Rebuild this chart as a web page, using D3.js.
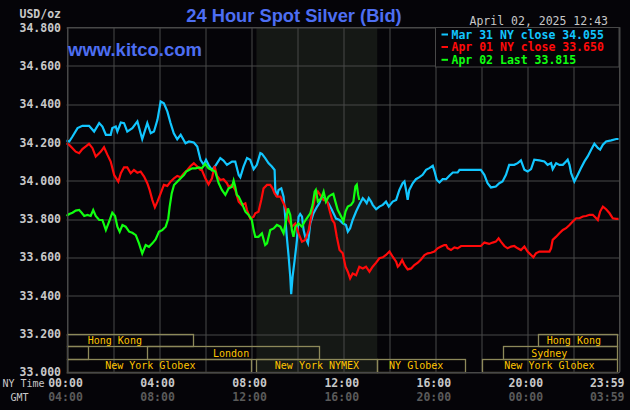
<!DOCTYPE html>
<html><head><meta charset="utf-8">
<script src="https://cdn.jsdelivr.net/npm/d3@7"></script>
<style>
html,body{margin:0;padding:0;background:#050408;}
svg{display:block;}
</style></head>
<body>
<script>
// ---------- DATA ----------
const yTicks = [33.0, 33.2, 33.4, 33.6, 33.8, 34.0, 34.2, 34.4, 34.6, 34.8];
const xGridHours = [0,2,4,6,8,10,12,14,16,18,20,22,24];
const nyTimeLabels = ["00:00","04:00","08:00","12:00","16:00","20:00","23:59"];
const gmtLabels    = ["04:00","08:00","12:00","16:00","20:00","00:00","03:59"];
const labelHours   = [0,4,8,12,16,20,23.983];

const legendLabels = ["Mar 31 NY close 34.055","Apr 01 NY close 33.650","Apr 02 Last 33.815"];

// [hour, price]
const mar31 = [
[0.00,34.208],[0.12,34.203],[0.26,34.229],[0.48,34.273],[0.69,34.285],[0.98,34.285],[1.20,34.255],[1.42,34.299],[1.56,34.281],[1.71,34.238],[1.92,34.238],[1.99,34.273],[2.14,34.281],[2.21,34.255],[2.36,34.302],[2.50,34.299],[2.64,34.255],[2.86,34.273],[3.08,34.308],[3.29,34.215],[3.51,34.299],[3.66,34.246],[3.80,34.255],[3.95,34.316],[4.09,34.412],[4.23,34.403],[4.38,34.360],[4.52,34.299],[4.66,34.246],[4.81,34.215],[4.96,34.238],[5.17,34.194],[5.32,34.203],[5.53,34.198],[5.68,34.177],[5.82,34.107],[5.96,34.081],[6.06,34.107],[6.17,34.081],[6.32,34.054],[6.46,34.075],[6.68,34.116],[6.82,34.103],[6.97,34.081],[7.19,34.098],[7.33,34.098],[7.48,34.028],[7.55,34.016],[7.69,34.072],[7.84,34.116],[7.98,34.107],[8.13,34.058],[8.27,34.081],[8.42,34.142],[8.49,34.138],[8.63,34.116],[8.78,34.089],[8.92,34.072],[9.04,34.054],[9.07,33.950],[9.14,33.915],[9.21,33.950],[9.33,33.958],[9.43,33.915],[9.50,33.810],[9.57,33.705],[9.65,33.601],[9.72,33.496],[9.76,33.405],[9.82,33.496],[9.91,33.583],[10.01,33.688],[10.08,33.810],[10.15,33.824],[10.23,33.810],[10.30,33.740],[10.37,33.705],[10.49,33.671],[10.59,33.775],[10.73,33.828],[10.88,33.862],[10.98,33.880],[11.09,33.915],[11.24,33.897],[11.38,33.880],[11.53,33.845],[11.71,33.800],[11.86,33.793],[12.00,33.776],[12.14,33.767],[12.22,33.732],[12.32,33.750],[12.43,33.793],[12.58,33.837],[12.72,33.872],[12.87,33.907],[12.94,33.898],[13.04,33.881],[13.13,33.907],[13.23,33.889],[13.30,33.872],[13.45,33.849],[13.59,33.863],[13.74,33.872],[13.88,33.889],[14.00,33.863],[14.17,33.889],[14.32,33.898],[14.46,33.950],[14.60,33.985],[14.68,33.994],[14.75,33.950],[14.82,33.898],[14.89,33.950],[15.04,33.985],[15.18,34.006],[15.33,34.017],[15.47,34.029],[15.62,34.055],[15.76,34.064],[15.91,34.076],[15.99,34.046],[16.08,34.003],[16.20,33.989],[16.34,34.006],[16.49,34.006],[16.63,34.024],[16.78,34.041],[16.99,34.041],[17.07,34.055],[17.49,34.055],[18.00,34.055],[18.15,34.029],[18.29,33.985],[18.44,33.963],[18.65,33.968],[18.80,33.985],[18.94,33.994],[19.09,34.029],[19.23,34.081],[19.45,34.081],[19.60,34.090],[19.74,34.104],[19.89,34.055],[20.03,34.046],[20.18,34.059],[20.32,34.108],[20.54,34.104],[20.76,34.099],[20.90,34.081],[21.05,34.090],[21.12,34.059],[21.27,34.090],[21.41,34.081],[21.56,34.081],[21.70,34.099],[21.77,34.108],[21.85,34.081],[21.92,34.038],[22.06,33.994],[22.21,34.029],[22.35,34.064],[22.50,34.099],[22.64,34.125],[22.79,34.160],[22.93,34.191],[23.08,34.169],[23.18,34.160],[23.30,34.186],[23.44,34.203],[23.66,34.209],[23.88,34.216],[23.98,34.216]
];
const apr01 = [
[0.00,34.194],[0.12,34.185],[0.26,34.168],[0.40,34.150],[0.55,34.142],[0.69,34.163],[0.84,34.177],[0.98,34.191],[1.13,34.168],[1.27,34.124],[1.42,34.142],[1.49,34.150],[1.63,34.173],[1.78,34.133],[1.92,34.098],[2.07,34.028],[2.25,33.993],[2.36,34.037],[2.50,34.068],[2.64,34.068],[2.79,34.037],[2.93,34.054],[3.08,34.040],[3.22,34.046],[3.37,34.020],[3.51,33.985],[3.61,33.950],[3.73,33.897],[3.84,33.859],[3.95,33.889],[4.09,33.932],[4.23,33.976],[4.38,33.971],[4.52,33.993],[4.67,34.011],[4.81,34.023],[4.96,34.016],[5.10,34.037],[5.25,34.054],[5.39,34.075],[5.53,34.089],[5.68,34.072],[5.82,34.054],[5.88,34.054],[6.03,34.011],[6.17,33.979],[6.32,34.011],[6.43,34.075],[6.54,34.023],[6.68,34.002],[6.82,34.006],[6.97,33.985],[7.04,33.967],[7.19,33.976],[7.33,33.950],[7.48,33.889],[7.62,33.871],[7.77,33.880],[7.84,33.845],[7.98,33.801],[8.13,33.810],[8.20,33.828],[8.34,33.836],[8.46,33.897],[8.56,33.958],[8.71,33.976],[8.85,33.976],[8.95,33.958],[9.04,33.932],[9.14,33.915],[9.29,33.915],[9.39,33.889],[9.50,33.862],[9.65,33.793],[9.79,33.758],[9.94,33.775],[10.08,33.723],[10.23,33.679],[10.37,33.688],[10.52,33.740],[10.66,33.828],[10.80,33.915],[10.92,33.941],[11.02,33.924],[11.17,33.897],[11.31,33.897],[11.46,33.828],[11.54,33.793],[11.64,33.776],[11.74,33.706],[11.86,33.636],[12.00,33.619],[12.12,33.549],[12.22,33.523],[12.32,33.488],[12.43,33.514],[12.58,33.505],[12.72,33.549],[12.87,33.540],[13.01,33.549],[13.16,33.523],[13.30,33.549],[13.45,33.570],[13.59,33.593],[13.74,33.598],[13.88,33.610],[14.03,33.628],[14.17,33.601],[14.32,33.575],[14.39,33.549],[14.46,33.558],[14.58,33.584],[14.68,33.558],[14.82,33.535],[14.97,33.540],[15.11,33.558],[15.26,33.570],[15.40,33.587],[15.55,33.610],[15.69,33.619],[15.83,33.622],[15.98,33.628],[16.12,33.645],[16.27,33.654],[16.41,33.662],[16.49,33.662],[16.56,33.645],[16.70,33.636],[16.85,33.650],[16.99,33.645],[17.14,33.657],[17.49,33.657],[18.00,33.657],[18.15,33.675],[18.36,33.668],[18.51,33.675],[18.65,33.680],[18.77,33.697],[18.87,33.680],[19.02,33.657],[19.16,33.645],[19.31,33.654],[19.45,33.657],[19.60,33.645],[19.74,33.636],[19.89,33.654],[20.03,33.628],[20.18,33.610],[20.28,33.598],[20.39,33.619],[20.54,33.628],[20.69,33.628],[20.98,33.628],[21.05,33.645],[21.12,33.689],[21.27,33.706],[21.41,33.724],[21.56,33.741],[21.70,33.750],[21.85,33.767],[21.99,33.785],[22.14,33.802],[22.28,33.802],[22.43,33.811],[22.57,33.814],[22.72,33.820],[22.86,33.820],[23.01,33.802],[23.08,33.793],[23.18,33.837],[23.30,33.863],[23.44,33.849],[23.59,33.828],[23.73,33.802],[23.88,33.799],[23.98,33.799]
];
const apr02 = [
[0.00,33.814],[0.12,33.824],[0.26,33.831],[0.40,33.842],[0.55,33.845],[0.66,33.831],[0.77,33.814],[0.91,33.819],[1.05,33.814],[1.16,33.845],[1.27,33.814],[1.42,33.793],[1.56,33.793],[1.71,33.740],[1.85,33.784],[1.99,33.831],[2.11,33.814],[2.21,33.758],[2.31,33.732],[2.43,33.767],[2.57,33.758],[2.72,33.732],[2.86,33.726],[3.01,33.714],[3.15,33.671],[3.29,33.618],[3.44,33.662],[3.58,33.653],[3.73,33.671],[3.87,33.691],[4.02,33.732],[4.16,33.740],[4.31,33.758],[4.42,33.801],[4.48,33.862],[4.57,33.932],[4.67,33.976],[4.81,33.993],[4.96,34.011],[5.10,34.028],[5.20,34.046],[5.32,34.054],[5.46,34.063],[5.61,34.063],[5.75,34.068],[5.88,34.063],[6.03,34.086],[6.17,34.063],[6.32,34.054],[6.46,34.046],[6.61,33.985],[6.75,33.950],[6.90,33.924],[7.04,33.958],[7.19,33.967],[7.26,33.999],[7.33,33.967],[7.40,33.924],[7.48,33.915],[7.62,33.880],[7.77,33.836],[7.91,33.819],[8.05,33.793],[8.13,33.740],[8.20,33.705],[8.34,33.705],[8.49,33.723],[8.63,33.662],[8.71,33.671],[8.85,33.740],[9.00,33.749],[9.14,33.767],[9.29,33.758],[9.43,33.723],[9.53,33.784],[9.62,33.854],[9.72,33.819],[9.79,33.740],[9.86,33.705],[9.94,33.758],[10.08,33.775],[10.23,33.758],[10.34,33.784],[10.49,33.810],[10.59,33.828],[10.69,33.871],[10.78,33.941],[10.83,33.950],[10.92,33.889],[11.07,33.906],[11.17,33.941],[11.27,33.889],[11.38,33.915],[11.49,33.924],[11.59,33.930],[11.68,33.889],[11.78,33.846],[11.93,33.811],[12.03,33.785],[12.12,33.837],[12.22,33.863],[12.36,33.872],[12.46,33.889],[12.55,33.968],[12.61,33.977],[12.67,33.924],[12.72,33.898]
];

// sessions: [row, name, startHour, endHour, labelHour]
const sessions = [
[0,"Hong Kong",0,5.5,2.1],
[0,"Hong Kong",20.5,24,22.04],
[1,"",0,0.95,null],
[1,"London",3.5,10.95,7.15],
[1,"Sydney",18.97,24,20.97],
[2,"New York Globex",0,8.0,3.64],
[2,"New York NYMEX",8.25,13.5,10.88],
[2,"NY Globex",13.5,17.33,15.19],
[2,"New York Globex",18.03,24,20.98]
];
const nymexShade = [8.25, 13.5];

// ---------- CHART ----------
const W = 630, H = 410;
const svg = d3.select("body").append("svg").attr("width", W).attr("height", H);
svg.append("rect").attr("width", W).attr("height", H).attr("fill", "#050408");

const x = d3.scaleLinear().domain([0, 24]).range([66.5, 619]);
const y = d3.scaleLinear().domain([33.0, 34.8]).range([371.8, 27.2]);

const GRID = "#484848";
const mono = "'DejaVu Sans Mono', 'Liberation Mono', monospace";

// shaded NYMEX region
svg.append("rect")
  .attr("x", x(nymexShade[0])).attr("y", y(34.8))
  .attr("width", x(nymexShade[1]) - x(nymexShade[0]))
  .attr("height", y(33.0) - y(34.8))
  .attr("fill", "#151815");

// grid via axes
const gx = svg.append("g").attr("transform", `translate(0,${y(33.0)})`)
  .call(d3.axisBottom(x).tickValues(xGridHours).tickSize(-(y(33.0) - y(34.8))).tickFormat(""));
gx.select(".domain").remove();
gx.selectAll("line").attr("stroke", GRID).attr("stroke-width", 1)
  .attr("transform", d => `translate(${Math.round(x(d)) + 0.5 - x(d)},0)`);

const gy = svg.append("g").attr("transform", `translate(${x(0)},0)`)
  .call(d3.axisLeft(y).tickValues(yTicks).tickSize(-(x(24) - x(0))).tickFormat(""));
gy.select(".domain").remove();
gy.selectAll("line").attr("stroke", GRID).attr("stroke-width", 1)
  .attr("transform", d => `translate(0,${Math.round(y(d)) + 0.5 - y(d)})`);

// y labels
svg.append("g").selectAll("text").data(yTicks).join("text")
  .attr("x", 61).attr("y", d => y(d) + 0.5)
  .attr("text-anchor", "end").attr("dominant-baseline", "central")
  .attr("fill", "#c8c8c8").attr("font-family", mono).attr("font-weight", "bold")
  .attr("font-size", "11.5px").text(d => d3.format(".3f")(d));

svg.append("text").attr("x", 61).attr("y", 14).attr("text-anchor", "end")
  .attr("dominant-baseline", "central")
  .attr("fill", "#c8c8c8").attr("font-family", mono).attr("font-weight", "bold")
  .attr("font-size", "11.5px").text("USD/oz");

// session boxes
const rowTop = r => y(33.2 - r * 0.2 / 3);
const rowBot = r => y(33.2 - (r + 1) * 0.2 / 3);
const sg = svg.append("g");
sg.selectAll("rect").data(sessions).join("rect")
  .attr("x", d => Math.round(x(d[2])) + 0.5)
  .attr("y", d => Math.round(rowTop(d[0])) + 0.5)
  .attr("width", d => Math.round(x(d[3])) - Math.round(x(d[2])) - (d[3] === 24 ? 2 : 0))
  .attr("height", d => Math.round(rowBot(d[0])) - Math.round(rowTop(d[0])))
  .attr("fill", "none").attr("stroke", "#8d895a").attr("stroke-width", 1.3);
sg.selectAll("text").data(sessions.filter(d => d[1])).join("text")
  .attr("x", d => x(d[4])).attr("y", d => (rowTop(d[0]) + rowBot(d[0])) / 2 + 0.5)
  .attr("text-anchor", "middle").attr("dominant-baseline", "central")
  .attr("fill", "#ffc400").attr("font-family", mono).attr("font-size", "10px")
  .text(d => d[1]);

// series lines
const line = d3.line().x(d => x(d[0])).y(d => y(d[1]));
const series = [
  {data: mar31, color: "#12c6ff"},
  {data: apr01, color: "#ff0a0a"},
  {data: apr02, color: "#10ff10"}
];
svg.append("g").selectAll("path").data(series).join("path")
  .attr("d", d => line(d.data)).attr("fill", "none")
  .attr("stroke", d => d.color).attr("stroke-width", 2.2)
  .attr("stroke-linejoin", "miter");

// plot border
svg.append("rect").attr("x", Math.round(x(0)) + 0.5).attr("y", Math.round(y(34.8)) + 0.5)
  .attr("width", Math.round(x(24)) - Math.round(x(0))).attr("height", Math.round(y(33.0)) - Math.round(y(34.8)))
  .attr("fill", "none").attr("stroke", GRID);

// title & site
svg.append("text").attr("x", 294).attr("y", 22).attr("text-anchor", "middle")
  .attr("fill", "#4d6ef2").attr("font-family", "'Liberation Sans', Arial, sans-serif")
  .attr("font-weight", "bold").attr("font-size", "18.3px").text("24 Hour Spot Silver (Bid)");
svg.append("text").attr("x", 68).attr("y", 56)
  .attr("fill", "#4d6ef2").attr("font-family", "'Liberation Sans', Arial, sans-serif")
  .attr("font-weight", "bold").attr("font-size", "18.5px").text("www.kitco.com");

// date
svg.append("text").attr("x", 608).attr("y", 20.5).attr("text-anchor", "end")
  .attr("dominant-baseline", "central")
  .attr("fill", "#c8c8c8").attr("font-family", mono).attr("font-size", "11.5px")
  .text("April 02, 2025 12:43");

// legend
const lg = svg.append("g");
lg.append("rect").attr("x", 435.5).attr("y", Math.round(y(34.8)) + 0.5)
  .attr("width", 183.5).attr("height", 39.5)
  .attr("fill", "#050408").attr("stroke", GRID);
const legendY = [34, 46.5, 59.3];
series.forEach((s, i) => {
  lg.append("line").attr("x1", 441.5).attr("x2", 448).attr("y1", legendY[i] + 0.5).attr("y2", legendY[i] + 0.5)
    .attr("stroke", s.color).attr("stroke-width", 2);
  lg.append("text").attr("x", 451.5).attr("y", legendY[i] + 0.5)
    .attr("dominant-baseline", "central")
    .attr("fill", s.color).attr("font-family", mono).attr("font-weight", "bold")
    .attr("font-size", "11.5px").text(legendLabels[i]);
});

// time axis labels
const tl = svg.append("g");
labelHours.forEach((h, i) => {
  const last = i === labelHours.length - 1;
  tl.append("text").attr("x", last ? 624.5 : x(h) - 1).attr("y", 383)
    .attr("text-anchor", last ? "end" : "middle").attr("dominant-baseline", "central")
    .attr("fill", "#c8c8c8").attr("font-family", mono).attr("font-weight", "bold")
    .attr("font-size", "11.5px").text(nyTimeLabels[i]);
  tl.append("text").attr("x", last ? 624.5 : x(h) - 1).attr("y", 397)
    .attr("text-anchor", last ? "end" : "middle").attr("dominant-baseline", "central")
    .attr("fill", "#5a5a5a").attr("font-family", mono).attr("font-weight", "bold")
    .attr("font-size", "11.5px").text(gmtLabels[i]);
});
tl.append("text").attr("x", 2.5).attr("y", 383).attr("dominant-baseline", "central")
  .attr("fill", "#c8c8c8").attr("font-family", mono).attr("font-size", "10px").text("NY Time");
tl.append("text").attr("x", 10.5).attr("y", 397).attr("dominant-baseline", "central")
  .attr("fill", "#c8c8c8").attr("font-family", mono).attr("font-size", "10px").text("GMT");
</script>
</body></html>
